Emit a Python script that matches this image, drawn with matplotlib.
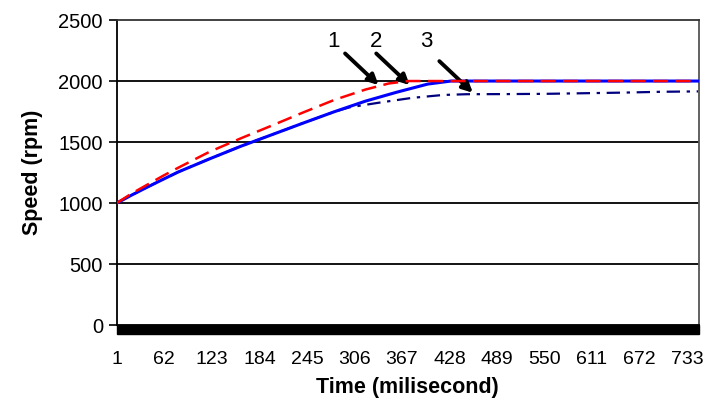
import matplotlib
matplotlib.use('Agg')
import matplotlib.pyplot as plt
from matplotlib.patches import Rectangle

# time axis (milisecond) and speed readings (rpm)
t_red = [1, 20, 40, 60, 80, 120, 160, 200, 240, 280, 320, 350, 375, 747]
speed_red = [1000, 1078, 1150, 1222, 1290, 1420, 1530, 1635, 1742, 1845, 1930, 1980, 2000, 2000]

t_blue = [1, 20, 40, 60, 80, 120, 160, 200, 240, 280, 320, 360, 400, 430, 747]
speed_blue = [1000, 1065, 1130, 1193, 1255, 1362, 1465, 1560, 1655, 1748, 1835, 1908, 1975,
              2000, 2000]

t_dash = [1, 20, 40, 60, 80, 120, 160, 200, 240, 280, 300, 340, 380, 420, 450,
          500, 550, 600, 650, 700, 747]
speed_dash = [1000, 1065, 1130, 1193, 1255, 1362, 1465, 1560, 1655, 1748, 1785, 1825, 1862,
              1886, 1892, 1893, 1895, 1900, 1905, 1912, 1915]

xtick_vals = [1, 62, 123, 184, 245, 306, 367, 428, 489, 550, 611, 672, 733]
ytick_vals = [0, 500, 1000, 1500, 2000, 2500]

plt.rcParams['font.family'] = ['Liberation Sans', 'DejaVu Sans']

fig = plt.figure(figsize=(7.08, 4.05), dpi=100)
ax = fig.add_axes([0.165, 0.1975, 0.822, 0.753])

for y in ytick_vals[1:-1]:
    ax.axhline(y, color='black', lw=1.3, zorder=1)

ax.plot(t_dash, speed_dash, color='#000080', lw=1.6, dashes=(6, 3, 1.5, 3), zorder=2)
ax.plot(t_blue, speed_blue, color='#0000ff', lw=2.2, zorder=3)
ax.plot(t_red, speed_red, color='#ff0000', lw=1.8, dashes=(6, 3), zorder=4)

# thick black band under the axis
ax.add_patch(Rectangle((0, 0), 1, -0.03, transform=ax.transAxes, color='black',
                       clip_on=False, zorder=5))

ax.set_xlim(1, 748)
ax.set_ylim(0, 2500)
ax.set_yticks(ytick_vals)
ax.set_xticks(xtick_vals)
ax.tick_params(axis='y', length=6, width=1.2, labelsize=14.5, pad=4)
ax.tick_params(axis='x', length=0, labelsize=14, pad=19)
for s in ax.spines.values():
    s.set_linewidth(1.3)
ax.spines['right'].set_color('#555555')
ax.spines['top'].set_color('#333333')

ax.set_ylabel('Speed (rpm)', fontsize=15.5, fontweight='bold', labelpad=11)
ax.set_xlabel('Time (milisecond)', fontsize=15.5, fontweight='bold', labelpad=6)

arrows = [('1', (279, 2327), (294, 2226), (337, 1967)),
          ('2', (334, 2327), (334, 2226), (377, 1967)),
          ('3', (398, 2327), (415, 2163), (458, 1904))]
for lab, tpos, tail, head in arrows:
    ax.text(tpos[0], tpos[1], lab, fontsize=16, ha='center', va='center')
    ax.annotate('', xy=head, xytext=tail,
                arrowprops=dict(arrowstyle='-|>', color='black', lw=2.8,
                                mutation_scale=15, shrinkA=0, shrinkB=0))

fig.savefig('out.png', dpi=100)
